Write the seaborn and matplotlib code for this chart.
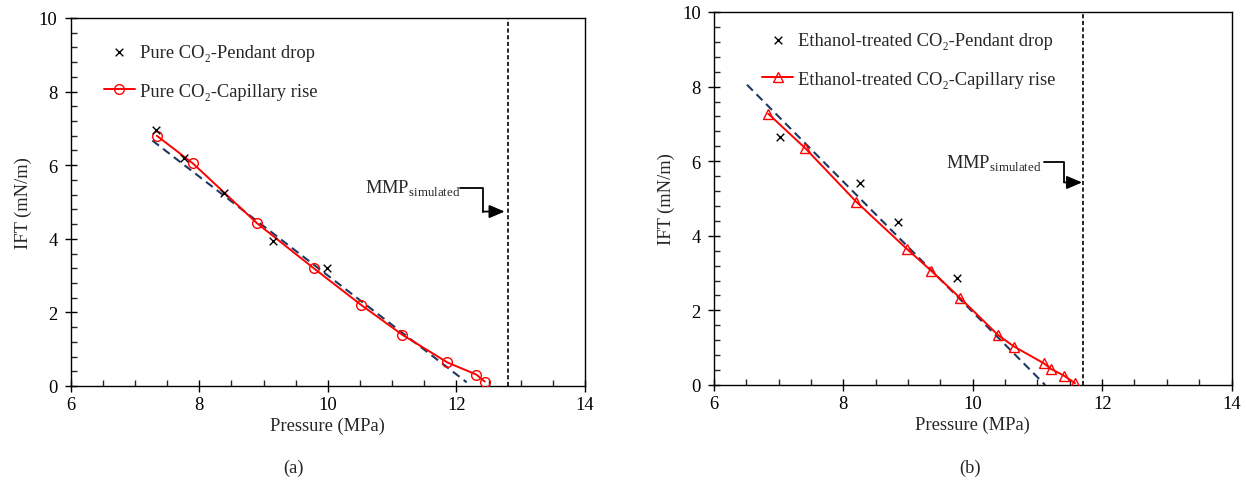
import matplotlib
matplotlib.use("Agg")
import matplotlib.pyplot as plt
from matplotlib.ticker import MultipleLocator
import seaborn as sns
import numpy as np
import pandas as pd

sns.set_style("ticks")
plt.rcParams['font.family'] = ['Liberation Serif', 'DejaVu Serif']
plt.rcParams['mathtext.fontset'] = 'custom'
plt.rcParams['mathtext.rm'] = 'Liberation Serif'
plt.rcParams['font.size'] = 13.3


# (a) pure CO2
pure_pd_p = [7.33, 7.77, 8.38, 9.14, 9.99]
pure_pd_ift = [6.96, 6.19, 5.25, 3.93, 3.22]
pure_cr_p = [7.34, 7.90, 8.90, 9.78, 10.52, 11.16, 11.86, 12.31, 12.44]
pure_cr_ift = [6.80, 6.05, 4.42, 3.20, 2.20, 1.39, 0.64, 0.31, 0.12]
pure_trend_p = [7.27, 12.16]
pure_trend_ift = [6.67, 0.10]
pure_mmp = 12.8

# (b) ethanol-treated CO2
eth_pd_p = [7.02, 8.25, 8.85, 9.76]
eth_pd_ift = [6.64, 5.41, 4.36, 2.87]
eth_cr_p = [6.84, 7.41, 8.20, 8.98, 9.36, 9.80, 10.39, 10.64, 11.10, 11.21, 11.41, 11.58]
eth_cr_ift = [7.27, 6.35, 4.91, 3.65, 3.06, 2.34, 1.34, 1.03, 0.58, 0.43, 0.25, 0.05]
eth_trend_p = [6.51, 11.12]
eth_trend_ift = [8.05, 0.0]
eth_mmp = 11.7

W, H = 1247, 481
fig = plt.figure(figsize=(W / 100, H / 100), dpi=100)
ax1 = fig.add_axes([70.7 / W, 1 - 387 / H, 514.3 / W, 368 / H])
ax2 = fig.add_axes([714 / W, 1 - 386 / H, 517.5 / W, 373 / H])


def panel(ax, pd_p, pd_ift, cr_p, cr_ift, tr_p, tr_ift, mmp, name, mk, msize):
    sns.scatterplot(x=pd_p, y=pd_ift, marker="x", color="black", s=30, linewidth=1.0,
                    label=name + " CO\u2082-Pendant drop", ax=ax, zorder=4)
    sns.lineplot(x=cr_p, y=cr_ift, color="red", linewidth=1.4, marker=mk, markersize=msize,
                 markerfacecolor="none", markeredgecolor="red", markeredgewidth=1.0,
                 label=name + " CO\u2082-Capillary rise", ax=ax, sort=False, zorder=3)
    sns.lineplot(x=tr_p, y=tr_ift, color="#1f3864", linewidth=1.5, dashes=False, ax=ax, zorder=2)
    ax.lines[-1].set_linestyle((0, (4, 2.5)))
    ax.axvline(mmp, color="black", linestyle=(0, (2.5, 1.5)), linewidth=1.2)

    ax.set_xlim(6, 14)
    ax.set_ylim(0, 10)
    ax.xaxis.set_major_locator(MultipleLocator(2))
    ax.xaxis.set_minor_locator(MultipleLocator(0.5))
    ax.yaxis.set_major_locator(MultipleLocator(2))
    ax.yaxis.set_minor_locator(MultipleLocator(0.4))
    ax.tick_params(which="major", direction="inout", length=9, width=1.0, labelsize=13.3, colors="black")
    ax.tick_params(which="minor", direction="in", length=4.5, width=1.0)
    ax.tick_params(axis="x", pad=3)
    ax.tick_params(axis="y", pad=5)
    for s in ax.spines.values():
        s.set_linewidth(1.0)
        s.set_color("black")
        s.set_visible(True)
    ax.set_xlabel("Pressure (MPa)", fontsize=13.3, labelpad=2)
    ax.set_ylabel("IFT (mN/m)", fontsize=13.3, labelpad=5)


panel(ax1, pure_pd_p, pure_pd_ift, pure_cr_p, pure_cr_ift, pure_trend_p, pure_trend_ift,
      pure_mmp, "Pure", "o", 7)
panel(ax2, eth_pd_p, eth_pd_ift, eth_cr_p, eth_cr_ift, eth_trend_p, eth_trend_ift,
      eth_mmp, "Ethanol-treated", "^", 7)

ax1.legend(loc="upper left", bbox_to_anchor=(0.046, 0.955), frameon=False,
           handlelength=1.7, handletextpad=0.25, labelspacing=1.2, borderpad=0, fontsize=13.3)
ax2.legend(loc="upper left", bbox_to_anchor=(0.075, 0.972), frameon=False,
           handlelength=1.7, handletextpad=0.25, labelspacing=1.2, borderpad=0, fontsize=13.3)


def mmp_note(ax, tx, ty, x0, y0, x1, y1, x2):
    ax.text(tx, ty, r"MMP$_{\mathregular{simulated}}$", fontsize=13.3, va="baseline", ha="left")
    ax.plot([x0, x1, x1], [y0, y0, y1], color="black", linewidth=1.3)
    ax.annotate("", xy=(x2, y1), xytext=(x1, y1),
                arrowprops=dict(arrowstyle="-|>,head_length=0.7,head_width=0.3",
                                color="black", lw=1.3, shrinkA=0, shrinkB=0))


mmp_note(ax1, 10.58, 5.28, 12.05, 5.37, 12.41, 4.74, 12.75)
mmp_note(ax2, 9.58, 5.84, 11.10, 5.99, 11.41, 5.43, 11.69)

fig.text(294 / W, 1 - 468 / H, "(a)", ha="center", va="center", fontsize=13.3)
fig.text(970 / W, 1 - 468 / H, "(b)", ha="center", va="center", fontsize=13.3)

fig.savefig("out.png", dpi=100)
